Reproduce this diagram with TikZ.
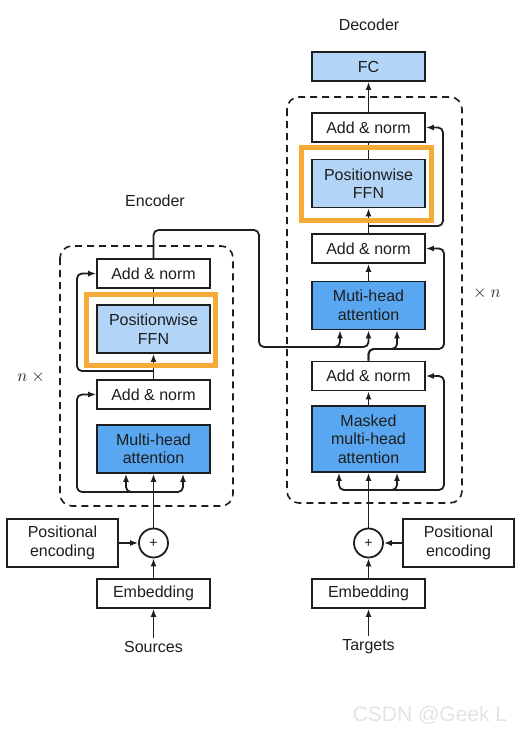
\documentclass[tikz,border=0pt]{standalone}
\usepackage{fontspec}
\setmainfont{Liberation Sans}
\usepackage{tikz}
\usetikzlibrary{arrows.meta,calc,positioning}
\tikzset{>={Latex[length=8pt,width=6pt]}}
\definecolor{ffnblue}{RGB}{178,212,246}
\definecolor{attblue}{RGB}{88,167,240}
\definecolor{hlorange}{RGB}{246,170,56}
\definecolor{ink}{RGB}{30,30,30}

\begin{document}
\begin{tikzpicture}[x=1pt,y=-1pt,
    font=\fontsize{16}{18.5}\selectfont, text=ink,
    box/.style={draw=ink, line width=1.8pt, minimum width=113pt, minimum height=29pt, inner sep=0pt, align=center},
    ffn/.style={box, fill=ffnblue, minimum height=48pt},
    att/.style={box, fill=attblue, minimum height=48pt},
    hl/.style={draw=hlorange, line width=5pt},
    stack/.style={draw=ink, line width=1.6pt, dash pattern=on 7pt off 5pt, rounded corners=12pt},
    wire/.style={draw=ink, line width=1.8pt, rounded corners=5pt},
    plus/.style={circle, draw=ink, line width=1.8pt, minimum size=29pt, inner sep=0pt, font=\fontsize{14}{14}\selectfont}]
  \useasboundingbox (0,0) rectangle (525,737);

  % repeated blocks
  \draw[stack] (60,246) rectangle (233,506);
  \draw[stack] (287,97) rectangle (462,503);

  % encoder
  \node (enclabel) at (155,201) {Encoder};
  \node[box] (encan2) at (153.5,273.5) {Add \& norm};
  \node[ffn] (encffn) at (153.5,329) {Positionwise\\FFN};
  \node[box] (encan1) at (153.5,394.5) {Add \& norm};
  \node[att] (encmha) at (153.5,449) {Multi-head\\attention};
  \node[plus] (encplus) at (153.5,543) {+};
  \node[box, minimum width=111pt, minimum height=48pt] (encpos) at (62.5,543) {Positional\\encoding};
  \node[box] (encemb) at (153.5,593.5) {Embedding};
  \node (src) at (153.5,647) {Sources};
  \node (encrep) at (33,377) {$n\times{}$};

  % decoder
  \node (declabel) at (369,25) {Decoder};
  \node[ffn, minimum height=29pt] (fc) at (368.5,66.5) {FC};
  \node[box] (decan3) at (368.5,127.5) {Add \& norm};
  \node[ffn] (decffn) at (368.5,183.5) {Positionwise\\FFN};
  \node[box] (decan2) at (368.5,248.5) {Add \& norm};
  \node[att] (decmha) at (368.5,305.5) {Muti-head\\attention};
  \node[box] (decan1) at (368.5,376) {Add \& norm};
  \node[att, minimum height=66pt] (decmmha) at (368.5,439) {Masked\\multi-head\\attention};
  \node[plus] (decplus) at (368.5,543) {+};
  \node[box, minimum width=111pt, minimum height=48pt] (decpos) at (458.5,543) {Positional\\encoding};
  \node[box] (decemb) at (368.5,593.5) {Embedding};
  \node (tgt) at (368.5,647) {Targets};
  \node (decrep) at (485,293) {${}\times n$};

  % encoder wires
  \coordinate (encsplit) at (153.5,492);
  \coordinate (encsplit2) at (153.5,371);
  \draw[wire,->] (src.north) -- (encemb.south);
  \draw[wire,->] (encemb) -- (encplus);
  \draw[wire,->] (encpos) -- (encplus);
  \draw[wire,->] (encplus) -- (encmha);
  \draw[wire,->] (encsplit) -| ($(encmha.south)+(-27.5,0)$);
  \draw[wire,->] (encsplit) -| ($(encmha.south)+(29.5,0)$);
  \draw[wire,->] (encsplit) -| (77,394.5) -- (encan1.west);
  \draw[wire,->] (encan1) -- (encffn);
  \draw[wire,->] (encsplit2) -| (77,273.5) -- (encan2.west);
  \draw[wire] (encffn) -- (encan2);
  \draw[wire,->] (encan2.north) |- (259,230) -- (259,347) -| ($(decmha.south)+(-28.5,0)$);
  \draw[wire,->] (320,347) -| (decmha.south);

  % decoder wires
  \coordinate (decsplit) at (368.5,490);
  \coordinate (decsplit2) at (368.5,349);
  \coordinate (decsplit3) at (368.5,226);
  \draw[wire,->] (tgt.north) -- (decemb.south);
  \draw[wire,->] (decemb) -- (decplus);
  \draw[wire,->] (decpos) -- (decplus);
  \draw[wire,->] (decplus) -- (decmmha);
  \draw[wire,->] (decsplit) -| ($(decmmha.south)+(-29.5,0)$);
  \draw[wire,->] (decsplit) -| ($(decmmha.south)+(28.5,0)$);
  \draw[wire,->] (decsplit) -| (444,376) -- (decan1.east);
  \draw[wire,->] (decmmha) -- (decan1);
  \draw[wire,->] (decan1.north) -- (decsplit2) -| ($(decmha.south)+(28.5,0)$);
  \draw[wire,->] (decan1.north) -- (decsplit2) -| (444,248.5) -- (decan2.east);
  \draw[wire,->] (decmha) -- (decan2);
  \draw[wire,->] (decan2) -- (decffn);
  \draw[wire,->] (decsplit3) -| (443,127.5) -- (decan3.east);
  \draw[wire] (decffn) -- (decan3);
  \draw[wire,->] (decan3) -- (fc);

  % highlights
  \draw[hl] (86.5,294.5) rectangle (215.5,365.5);
  \draw[hl] (301.5,147.5) rectangle (431.5,220.5);

  \node[text=black!11, font=\fontsize{21}{24}\selectfont] (mark) at (430,715) {CSDN @Geek L};
\end{tikzpicture}
\end{document}
